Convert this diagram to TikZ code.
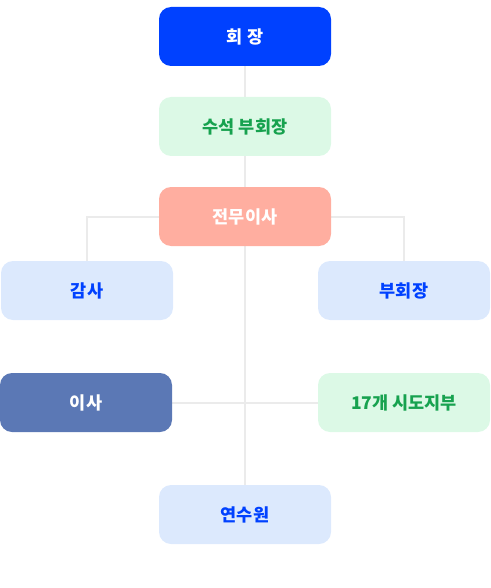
\documentclass[tikz,border=0pt]{standalone}
\usepackage{fontspec}
\setmainfont{Noto Sans CJK KR}
\usepackage{tikz}
\usetikzlibrary{backgrounds}

\definecolor{chiefblue}{HTML}{0041FF}
\definecolor{paleblue}{HTML}{DCE9FD}
\definecolor{palegreen}{HTML}{DCF9E6}
\definecolor{deepgreen}{HTML}{17A24F}
\definecolor{salmon}{HTML}{FFAEA0}
\definecolor{slateblue}{HTML}{5B78B5}
\definecolor{linkgray}{HTML}{EBEBEB}

\tikzset{
	orgbox/.style={rounded corners=12pt, minimum width=172pt, minimum height=59pt, font=\bfseries\fontsize{17.5}{20}\selectfont, inner sep=0pt},
	bluebox/.style={orgbox, fill=chiefblue, text=white},
	greenbox/.style={orgbox, fill=palegreen, text=deepgreen},
	salmonbox/.style={orgbox, fill=salmon, text=white},
	lightbox/.style={orgbox, fill=paleblue, text=chiefblue},
	slatebox/.style={orgbox, fill=slateblue, text=white},
	link/.style={draw=linkgray, line width=2pt}
}

\begin{document}
\begin{tikzpicture}[x=1pt, y=-1pt]
	\useasboundingbox (0,0) rectangle (490,588);
	\node[bluebox] (hoejang) at (245,36.5) {회 장};
	\node[greenbox] (suseok) at (245,126.5) {수석 부회장};
	\node[salmonbox] (jeonmu) at (245,216.5) {전무이사};
	\node[lightbox] (gamsa) at (87,290.5) {감사};
	\node[lightbox] (buhoejang) at (404,290.5) {부회장};
	\node[slatebox] (isa) at (86,402.5) {이사};
	\node[greenbox] (jibu) at (404,402.5) {17개 시도지부};
	\node[lightbox] (yeonsuwon) at (245,514.5) {연수원};
	\begin{scope}[on background layer]
		\draw[link] (hoejang.south) -- (yeonsuwon.north);
		\draw[link] (jeonmu.west) -| (gamsa.north);
		\draw[link] (jeonmu.east) -| (buhoejang.north);
		\draw[link] (isa.east) -- (jibu.west);
	\end{scope}
\end{tikzpicture}
\end{document}
